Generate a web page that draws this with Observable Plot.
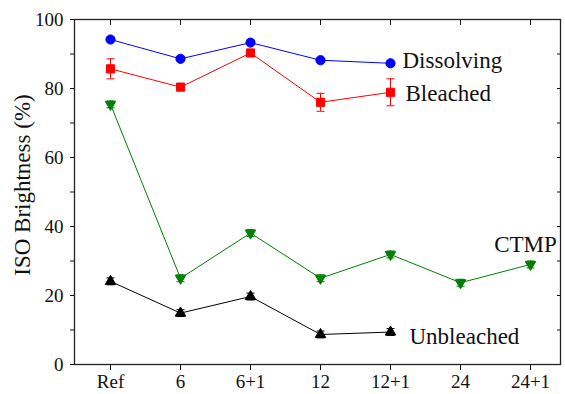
<!DOCTYPE html>
<html><head><meta charset="utf-8">
<script src="https://cdn.jsdelivr.net/npm/d3@7"></script>
<script src="https://cdn.jsdelivr.net/npm/@observablehq/plot@0.6"></script>
<style>
body{margin:0;background:#fff;}
#chart svg, #chart svg text, #chart svg g {font-family:"Liberation Serif","Times New Roman",serif !important;}
#chart svg{background:#fff;}
</style></head><body><div id="chart"></div>
<script>
// ---- data ----
const categories = ["Ref", "6", "6+1", "12", "12+1", "24", "24+1"];
const dissolving = [94.2, 88.6, 93.3, 88.2, 87.3];
const dissolvingErr = [0.4, 0.4, 0.4, 0.4, 0.4];
const bleached = [85.7, 80.4, 90.3, 76.0, 78.9];
const bleachedErr = [2.9, 0.8, 0.8, 2.6, 3.9];
const ctmp = [75.4, 25.0, 38.1, 25.0, 31.9, 23.7, 29.0];
const ctmpErr = [1.0, 1.0, 1.0, 1.0, 1.0, 1.0, 1.0];
const unbleached = [24.1, 14.9, 19.7, 8.7, 9.4];
const unbleachedErr = [1.0, 1.0, 1.0, 1.0, 1.0];
const seriesNames = ["Dissolving", "Bleached", "CTMP", "Unbleached"];
const yTicks = [0, 10, 20, 30, 40, 50, 60, 70, 80, 90, 100];
const yLabelTicks = [0, 20, 40, 60, 80, 100];
const yTitle = "ISO Brightness (%)";

// ---- build tables ----
const seriesValues = [dissolving, bleached, ctmp, unbleached];
const seriesErrs = [dissolvingErr, bleachedErr, ctmpErr, unbleachedErr];
const tables = seriesNames.map((name, i) =>
  seriesValues[i].map((v, j) => ({series: name, cat: categories[j], value: v, err: seriesErrs[i][j]}))
);

// ---- styles ----
const styles = {
  Dissolving: {color: "#0000ff", symbol: "circle", r: 4.6, rotate: 0, label: {dx: 12, dy: -3, anchor: "start"}},
  Bleached:   {color: "#ff0000", symbol: "square", r: 4.6, rotate: 0, label: {dx: 15, dy: 1, anchor: "start"}},
  CTMP:       {color: "#008000", symbol: "triangle", r: 3.9, rotate: 180, label: {dx: -5, dy: -20, anchor: "middle"}},
  Unbleached: {color: "#000000", symbol: "triangle", r: 3.9, rotate: 0, label: {dx: 19, dy: 5, anchor: "start"}}
};
const capSymbol = {draw(ctx) { ctx.moveTo(-4, 0); ctx.lineTo(4, 0); }};

const marks = [];
tables.forEach((rows) => {
  const s = styles[rows[0].series];
  marks.push(Plot.line(rows, {x: "cat", y: "value", stroke: s.color, strokeWidth: 1}));
  marks.push(Plot.ruleX(rows, {x: "cat", y1: d => d.value - d.err, y2: d => d.value + d.err, stroke: s.color, strokeWidth: 1}));
  marks.push(Plot.dot(rows, {x: "cat", y: d => d.value + d.err, symbol: capSymbol, r: 1, stroke: s.color, strokeWidth: 1}));
  marks.push(Plot.dot(rows, {x: "cat", y: d => d.value - d.err, symbol: capSymbol, r: 1, stroke: s.color, strokeWidth: 1}));
  marks.push(Plot.dot(rows, {x: "cat", y: "value", symbol: s.symbol, r: s.r, fill: s.color, stroke: s.color, strokeWidth: 1, rotate: s.rotate}));
  marks.push(Plot.text([rows[rows.length - 1]], {x: "cat", y: "value", text: "series", dx: s.label.dx, dy: s.label.dy, textAnchor: s.label.anchor, fontSize: 23, fill: "#111"}));
});

const chart = Plot.plot({
  width: 565,
  height: 394,
  marginLeft: 74,
  marginRight: 5,
  marginTop: 19,
  marginBottom: 30,
  style: {fontFamily: "'Liberation Serif', serif", background: "#fff", color: "#111"},
  x: {type: "point", domain: categories, range: [109.3, 531], padding: 0, label: null},
  y: {domain: [0, 100], label: null},
  marks: [
    Plot.axisX({anchor: "bottom", tickSize: 6, tickPadding: 4, fontSize: 19, label: null}),
    Plot.axisX({anchor: "top", tickSize: -5, tickFormat: () => "", label: null}),
    Plot.axisY({anchor: "left", ticks: yTicks, tickSize: 4, tickPadding: 7, fontSize: 19, label: null,
      tickFormat: d => yLabelTicks.includes(d) ? String(d) : ""}),
    Plot.axisY({anchor: "right", ticks: yTicks, tickSize: -4, tickFormat: () => "", label: null}),
    Plot.text([yTitle], {text: d => d, frameAnchor: "left", textAnchor: "middle", dx: -52, dy: -7, rotate: -90, fontSize: 23, fill: "#111"}),
    ...marks,
    Plot.frame({stroke: "#222", strokeWidth: 1.3})
  ]
});
document.getElementById("chart").appendChild(chart);
</script></body></html>
